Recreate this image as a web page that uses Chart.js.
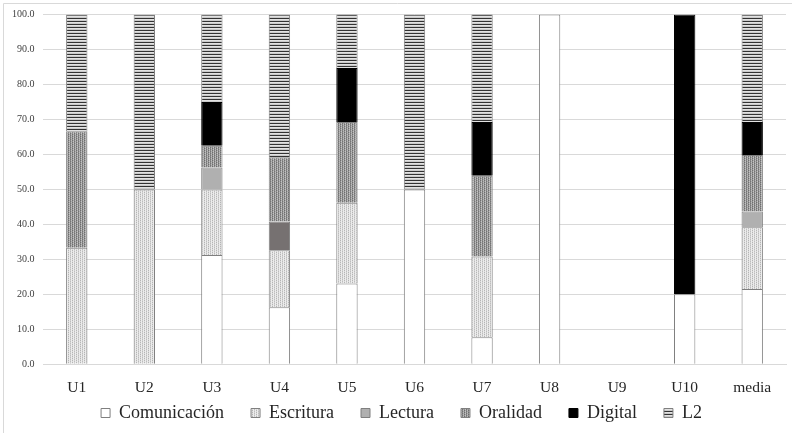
<!DOCTYPE html>
<html>
<head>
<meta charset="utf-8">
<script src="https://cdn.jsdelivr.net/npm/chart.js@4.4.1/dist/chart.umd.min.js"></script>
<style>
  html, body { margin: 0; padding: 0; background: #fff; overflow: hidden; }
  #wrap { width: 792px; height: 433px; position: relative; }
</style>
</head>
<body>
<div id="wrap"><canvas id="BarChart" width="792" height="433"></canvas></div>
<script>
// units and their shares (%) per competence
const units = ['U1', 'U2', 'U3', 'U4', 'U5', 'U6', 'U7', 'U8', 'U9', 'U10', 'media'];
const comunicacion = [0, 0, 31.25, 16.3, 23.1, 50, 7.7, 100, 0, 20, 21.5];
const escritura    = [33.3, 50, 18.75, 16.3, 23.1, 0, 23.1, 0, 0, 0, 17.7];
const lectura      = [0, 0, 6.25, 8.2, 0, 0, 0, 0, 0, 0, 4.5];
const oralidad     = [33.3, 0, 6.25, 18.4, 23.1, 0, 23.1, 0, 0, 0, 16.1];
const digital      = [0, 0, 12.5, 0, 15.4, 0, 15.4, 0, 0, 80, 9.5];
const l2           = [33.4, 50, 25, 40.8, 15.4, 50, 30.8, 0, 0, 0, 30.7];
const yTicks = [0, 10, 20, 30, 40, 50, 60, 70, 80, 90, 100];

function makePattern(w, h, base, pix) {
  const c = document.createElement('canvas');
  c.width = w; c.height = h;
  const g = c.getContext('2d');
  g.fillStyle = base;
  g.fillRect(0, 0, w, h);
  pix.forEach(p => { g.fillStyle = p[2]; g.fillRect(p[0], p[1], 1, 1); });
  return g.createPattern(c, 'repeat');
}

const ctx = document.getElementById('BarChart').getContext('2d');

// light dotted (Escritura)
const escPat = makePattern(4, 2, '#ececec', [
  [0, 0, '#b5b5b5'], [0, 1, '#dadada'], [2, 0, '#d0d0d0'], [2, 1, '#bdbdbd']
]);
// dark dotted (Oralidad)
const oralPat = makePattern(4, 2, '#a8a8a8', [
  [0, 0, '#6e6e6e'], [0, 1, '#8f8f8f'], [2, 0, '#858585'], [2, 1, '#737373'], [1, 1, '#c4c4c4'], [3, 0, '#bdbdbd']
]);
// horizontal stripes (L2)
const l2Pat = makePattern(2, 3, '#e2e2e2', [
  [0, 0, '#333333'], [1, 0, '#333333'], [0, 2, '#cacaca'], [1, 2, '#cacaca']
]);

const frame = {
  id: 'frame',
  beforeDraw(chart) {
    const c = chart.ctx;
    c.save();
    c.strokeStyle = '#d9d9d9';
    c.lineWidth = 1;
    c.beginPath();
    c.moveTo(3.5, 433);
    c.lineTo(3.5, 3.5);
    c.lineTo(792, 3.5);
    c.stroke();
    c.restore();
  }
};

// move the legend up into the reserved space and a bit sideways
const shiftLegend = {
  id: 'shiftLegend',
  afterLayout(chart) {
    const lg = chart.legend;
    lg.left += 8.5; lg.right += 8.5;
    lg.top -= 19.3; lg.bottom -= 19.3;
  }
};

const serif = "'Liberation Serif', 'Times New Roman', serif";
const common = { borderColor: '#7f7f7f', borderWidth: 1, barPercentage: 0.316, categoryPercentage: 1 };

new Chart(ctx, {
  type: 'bar',
  data: {
    labels: units,
    datasets: [
      Object.assign({ label: 'Comunicación', data: comunicacion, backgroundColor: '#ffffff' }, common),
      Object.assign({ label: 'Escritura', data: escritura, backgroundColor: escPat }, common),
      Object.assign({ label: 'Lectura', data: lectura,
        backgroundColor: c => c.dataIndex === 3 ? '#767171' : '#b0b0b0' }, common),
      Object.assign({ label: 'Oralidad', data: oralidad, backgroundColor: oralPat }, common),
      Object.assign({ label: 'Digital', data: digital, backgroundColor: '#000000' }, common, { borderColor: '#000000' }),
      Object.assign({ label: 'L2', data: l2, backgroundColor: l2Pat }, common)
    ]
  },
  options: {
    responsive: false,
    animation: false,
    layout: { padding: { left: 0, right: 6, top: 10.7, bottom: -18.3 } },
    plugins: {
      legend: {
        position: 'bottom',
        labels: {
          boxWidth: 9,
          boxHeight: 9,
          padding: 27,
          color: '#262626',
          font: { family: serif, size: 18 }
        }
      },
      tooltip: { enabled: false }
    },
    scales: {
      x: {
        stacked: true,
        grid: { display: false },
        border: { display: true, color: '#d9d9d9' },
        ticks: { color: '#262626', padding: 6, font: { family: serif, size: 15.5 } },
        afterFit: s => { s.height = 32; }
      },
      y: {
        stacked: true,
        min: 0,
        max: 100,
        afterBuildTicks: s => { s.ticks = yTicks.map(v => ({ value: v })); },
        grid: { color: '#d9d9d9', drawTicks: false },
        border: { display: false },
        ticks: {
          color: '#404040',
          padding: 8.5,
          font: { family: serif, size: 10 },
          callback: v => v.toFixed(1)
        },
        afterFit: s => { s.width = 43; }
      }
    }
  },
  plugins: [frame, shiftLegend]
});
</script>
</body>
</html>
